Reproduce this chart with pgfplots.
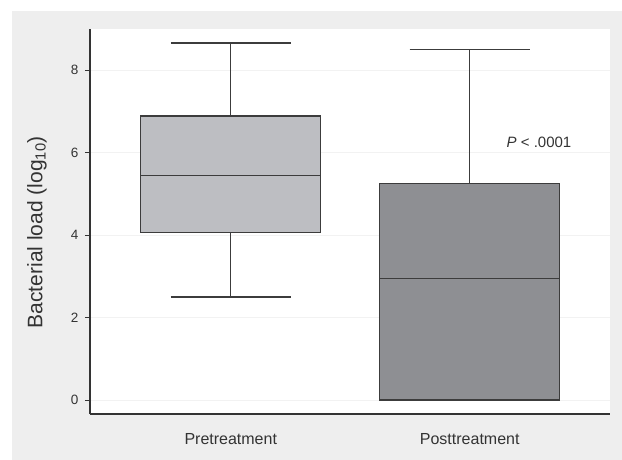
\documentclass[border=0pt]{standalone}
\usepackage{fontspec}
\setmainfont{Liberation Sans}
\usepackage{pgfplots}
\pgfplotsset{compat=1.18}
\usepgfplotslibrary{statistics}

\definecolor{panel}{HTML}{EEEEEE}
\definecolor{boxlight}{HTML}{BDBEC2}
\definecolor{boxdark}{HTML}{8E8F93}
\definecolor{edge}{HTML}{333333}
\definecolor{boxedge}{HTML}{3C3C3C}
\definecolor{gridc}{HTML}{F2F2F2}

\begin{document}
\begin{tikzpicture}[x=1pt,y=1pt]
\fill[white] (-90,-46) rectangle (532,414);
\fill[panel] (-78,-46) rectangle (532,403);
\useasboundingbox (-90,-46) rectangle (532,414);
\begin{axis}[
  at={(0,0)}, anchor=south west,
  scale only axis,
  width=520pt, height=385pt,
  xmin=0.411, xmax=2.587,
  ymin=-0.34, ymax=9.0,
  axis background/.style={fill=white},
  axis x line*=bottom,
  axis y line*=left,
  axis line style={-, draw=edge, line width=1.2pt},
  ytick={0,2,4,6,8},
  tick align=outside,
  major tick length=5pt,
  ytick style={draw=edge, line width=0.9pt},
  xtick={1,2},
  xticklabels={Pretreatment, Posttreatment},
  xtick style={draw=none},
  ymajorgrids=true,
  grid style={gridc, line width=0.8pt},
  /pgf/number format/assume math mode=true,
  y tick label style={font=\fontsize{13.5}{16}\selectfont, text=edge, xshift=-3pt},
  x tick label style={font=\fontsize{16}{19}\selectfont, text=edge, yshift=-11pt},
  ylabel={Bacterial load (log\textsubscript{10})},
  ylabel style={at={(axis description cs:-0.102,0.472)}, anchor=center, rotate=0,
    font=\fontsize{21}{25}\selectfont, text=edge},
  boxplot/draw direction=y,
]
\addplot[draw=boxedge, line width=1.4pt, fill=boxlight,
  boxplot prepared={draw position=1, box extend=0.753, whisker extend=0.502,
    lower whisker=2.50, lower quartile=4.06, median=5.44,
    upper quartile=6.89, upper whisker=8.66},
  boxplot/every whisker/.style={line width=1.2pt},
  boxplot/every median/.style={line width=1.2pt}]
  coordinates {};
\addplot[draw=boxedge, line width=1.4pt, fill=boxdark,
  boxplot prepared={draw position=2, box extend=0.753, whisker extend=0.502,
    lower whisker=0.0, lower quartile=0.0, median=2.95,
    upper quartile=5.25, upper whisker=8.50},
  boxplot/every whisker/.style={line width=1.2pt},
  boxplot/every median/.style={line width=1.2pt}]
  coordinates {};
\node[font=\fontsize{15}{18}\selectfont, text=edge] at (axis cs:2.29,6.24) {\textit{P} < .0001};
\end{axis}
\end{tikzpicture}
\end{document}
